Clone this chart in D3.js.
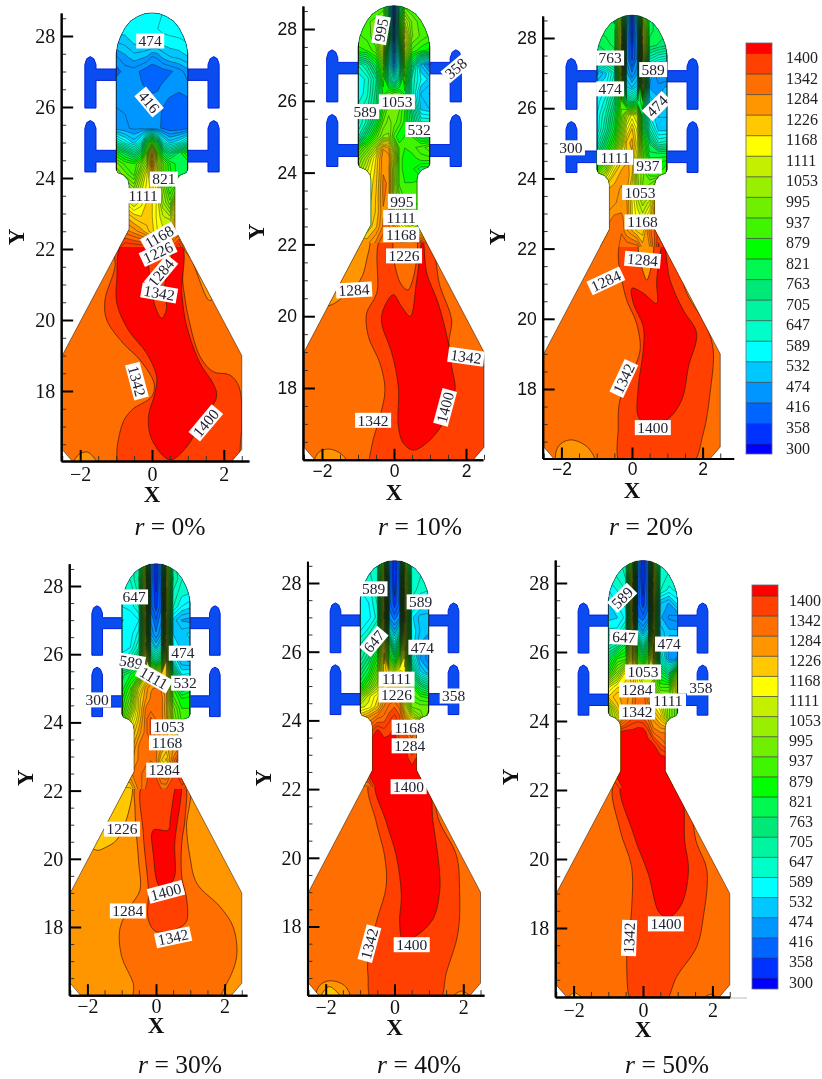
<!DOCTYPE html>
<html>
<head>
<meta charset="UTF-8">
<title>Temperature contours</title>
<script src="https://d3js.org/d3.v7.min.js"></script>
<style>
  html, body { margin: 0; padding: 0; background: #fff; overflow: hidden; }
  svg { display: block; filter: blur(0.4px); }
  text { font-family: "Liberation Serif", serif; fill: #111; }
  .axis text { font-size: 20px; }
  .sans .axis text { font-family: "Liberation Sans", sans-serif; font-size: 17.5px; }
  .axis path, .axis .major line { stroke: #000; stroke-width: 2px; }
  .axis .minor line { stroke: #333; stroke-width: 1px; }
  .title { font-weight: bold; font-size: 23px; }
  .tag { font-size: 15.5px; fill: #223; }
  .legend text { font-size: 16px; fill: #222; }
</style>
</head>
<body>
<script>
// contour levels and the colour of the band above each one
var levels = [300, 358, 416, 474, 532, 589, 647, 705, 763, 821, 879, 937, 995, 1053, 1111, 1168, 1226, 1284, 1342, 1400];
var bandColors = ["#0000ff", "#0032ff", "#0064ff", "#0096ff", "#00c8ff", "#00ffff", "#00ffc8", "#00f5a0", "#00e878", "#00f850", "#00ff00",
  "#40f500", "#70f000", "#98f000", "#c4f000", "#ffff00", "#ffc800", "#ff9600", "#ff6e00", "#ff4000", "#ff0000"];

// axes
var xTicks = [-2, 0, 2];
var yTicks = [18, 20, 22, 24, 26, 28];
var xMinorTicks = [-2.5, -1.5, -1, -0.5, 0.5, 1, 1.5, 2.5];
var yMinorTicks = [16.5, 17, 17.5, 18.5, 19, 19.5, 20.5, 21, 21.5, 22.5, 23, 23.5, 24.5, 25, 25.5, 26.5, 27, 27.5, 28.5];

// geometry, right half, read in X / Y units
var wallRight = [[0, 28.65], [0.2, 28.63], [0.4, 28.55], [0.6, 28.42], [0.75, 28.23], [0.87, 28], [0.95, 27.78], [1, 27.5], [1, 24.25], [0.95, 24.15],
  [0.78, 24.08], [0.67, 23.95], [0.64, 23.8], [0.64, 22.55], [2.5, 19], [2.5, 16.35], [2.2, 16]];
var manifoldUpper = [[0.95, 27.07], [1.56, 27.07], [1.56, 27.2], [1.62, 27.36], [1.72, 27.42], [1.82, 27.36], [1.87, 27.2], [1.87, 25.97], [1.56, 25.97], [1.56, 26.75], [0.95, 26.75]];
var manifoldLower = [[0.95, 24.78], [1.56, 24.78], [1.56, 25.4], [1.62, 25.56], [1.72, 25.62], [1.82, 25.56], [1.87, 25.4], [1.87, 24.17], [1.56, 24.17], [1.56, 24.45], [0.95, 24.45]];

// upper part of the field: value table, columns and rows in X / Y units
var gridColumns = [-1, -0.75, -0.5, -0.3, -0.15, 0, 0.15, 0.3, 0.5, 0.75, 1];
var gridRows = [28.7, 28.2, 27.8, 27.4, 27, 26.6, 26.2, 25.8, 25.4, 25, 24.7, 24.4, 24.1, 23.7, 23.3, 22.9, 22.5, 22];

var gridR0 = [
  [560, 560, 560, 560, 560, 560, 560, 560, 560, 560, 560],
  [545, 550, 560, 560, 560, 560, 560, 570, 570, 570, 570],
  [500, 510, 535, 540, 540, 540, 535, 540, 550, 555, 560],
  [440, 465, 490, 480, 470, 440, 450, 480, 500, 510, 530],
  [400, 430, 430, 410, 395, 390, 395, 400, 410, 430, 460],
  [440, 440, 430, 420, 410, 405, 410, 420, 440, 430, 440],
  [440, 440, 440, 430, 430, 425, 425, 425, 410, 400, 410],
  [450, 445, 440, 440, 435, 430, 430, 410, 395, 395, 410],
  [460, 450, 440, 440, 430, 430, 425, 410, 395, 395, 410],
  [650, 580, 520, 600, 800, 950, 800, 600, 520, 560, 640],
  [850, 780, 700, 780, 950, 1250, 950, 800, 720, 800, 880],
  [950, 900, 880, 960, 1050, 1300, 1080, 950, 850, 800, 800],
  [1000, 950, 900, 1040, 1130, 1250, 1100, 950, 860, 800, 800],
  [1100, 1080, 1000, 1100, 1150, 1180, 1120, 1000, 880, 1000, 1200],
  [1150, 1140, 1080, 1130, 1170, 1170, 1130, 1030, 950, 1250, 1300],
  [1250, 1230, 1190, 1170, 1180, 1170, 1130, 1090, 1060, 1280, 1300],
  [1320, 1300, 1270, 1240, 1210, 1180, 1140, 1120, 1180, 1290, 1300],
  [1350, 1410, 1410, 1410, 1410, 1345, 1345, 1345, 1345, 1410, 1290]
];
var gridR10 = [
  [900, 900, 900, 900, 700, 300, 700, 900, 900, 900, 900],
  [920, 930, 950, 1000, 800, 320, 800, 1050, 960, 920, 900],
  [900, 920, 960, 1110, 850, 340, 800, 1150, 970, 930, 900],
  [870, 880, 930, 1100, 700, 380, 700, 1100, 900, 860, 840],
  [620, 680, 800, 960, 650, 420, 620, 950, 720, 500, 420],
  [560, 600, 700, 900, 720, 600, 720, 900, 640, 560, 520],
  [560, 610, 720, 860, 930, 900, 900, 840, 640, 500, 470],
  [600, 640, 740, 880, 950, 960, 940, 880, 720, 520, 500],
  [580, 660, 800, 940, 980, 950, 920, 870, 760, 620, 620],
  [640, 780, 920, 1000, 1000, 900, 850, 880, 880, 800, 780],
  [850, 950, 1060, 1250, 1220, 1050, 900, 880, 900, 920, 960],
  [950, 1050, 1170, 1280, 1280, 1100, 900, 860, 860, 900, 900],
  [1000, 1100, 1180, 1280, 1270, 1050, 900, 860, 860, 800, 800],
  [1110, 1130, 1190, 1290, 1280, 1040, 900, 880, 880, 900, 900],
  [1130, 1140, 1200, 1290, 1270, 1050, 950, 900, 880, 900, 900],
  [1150, 1160, 1200, 1280, 1260, 1100, 1020, 960, 920, 950, 950],
  [1200, 1170, 1220, 1290, 1290, 1250, 1170, 1120, 1060, 1110, 1150],
  [1250, 1250, 1300, 1345, 1345, 1345, 1300, 1300, 1300, 1410, 1345]
];
var gridR20 = [
  [800, 800, 780, 1000, 600, 300, 600, 1000, 800, 780, 780],
  [790, 800, 800, 1150, 480, 310, 480, 1150, 800, 780, 770],
  [760, 780, 800, 1200, 440, 330, 440, 1200, 780, 760, 740],
  [700, 740, 760, 1200, 440, 350, 430, 1200, 650, 600, 580],
  [460, 520, 620, 1150, 480, 420, 470, 1150, 500, 400, 400],
  [530, 560, 650, 1100, 530, 500, 540, 1100, 470, 460, 480],
  [540, 600, 720, 920, 750, 700, 780, 850, 520, 480, 500],
  [560, 650, 780, 950, 1060, 1120, 1080, 800, 560, 500, 500],
  [560, 680, 820, 1000, 1130, 1200, 1130, 850, 640, 520, 520],
  [620, 760, 900, 1060, 1210, 1240, 1150, 920, 760, 620, 640],
  [700, 850, 1000, 1140, 1200, 1220, 1120, 960, 800, 800, 800],
  [820, 960, 1130, 1210, 1230, 1220, 1060, 950, 860, 860, 880],
  [1000, 1080, 1200, 1240, 1250, 1200, 1030, 980, 900, 880, 900],
  [1180, 1220, 1240, 1260, 1240, 1150, 1050, 960, 1000, 1200, 1200],
  [1190, 1230, 1250, 1270, 1260, 1170, 1100, 1040, 1100, 1320, 1320],
  [1200, 1260, 1290, 1290, 1270, 1170, 1130, 1100, 1180, 1340, 1340],
  [1250, 1290, 1310, 1310, 1260, 1230, 1190, 1180, 1300, 1380, 1380],
  [1290, 1290, 1290, 1330, 1345, 1345, 1345, 1250, 1250, 1410, 1345]
];
var gridR30 = [
  [620, 640, 660, 1000, 450, 300, 450, 1000, 660, 620, 600],
  [600, 620, 680, 1150, 420, 310, 420, 1150, 680, 620, 600],
  [570, 590, 660, 1180, 400, 330, 400, 1180, 640, 600, 590],
  [560, 570, 620, 1180, 400, 340, 410, 1180, 620, 560, 540],
  [530, 540, 560, 1150, 440, 390, 440, 1150, 520, 470, 460],
  [540, 545, 600, 1150, 470, 420, 470, 1150, 530, 520, 540],
  [540, 560, 650, 1180, 600, 500, 600, 1200, 570, 520, 520],
  [590, 640, 760, 1200, 800, 700, 800, 1200, 580, 480, 470],
  [780, 820, 880, 1100, 1200, 1130, 1200, 1200, 780, 560, 570],
  [800, 900, 1120, 1240, 1280, 1290, 1280, 1220, 880, 760, 800],
  [840, 950, 1180, 1250, 1290, 1295, 1300, 1240, 920, 850, 860],
  [860, 1000, 1180, 1290, 1300, 1310, 1300, 1230, 980, 880, 880],
  [900, 1080, 1200, 1300, 1350, 1310, 1300, 1240, 1000, 900, 880],
  [1100, 1150, 1240, 1300, 1350, 1310, 1280, 1240, 1180, 1200, 1200],
  [1150, 1200, 1290, 1300, 1300, 1290, 1260, 1220, 1250, 1300, 1300],
  [1200, 1240, 1290, 1300, 1310, 1290, 1200, 1160, 1290, 1420, 1420],
  [1260, 1280, 1300, 1330, 1350, 1340, 1260, 1250, 1340, 1420, 1420],
  [1180, 1180, 1290, 1345, 1350, 1350, 1350, 1350, 1350, 1345, 1290]
];
var gridR40 = [
  [610, 620, 640, 1000, 450, 300, 450, 1000, 640, 620, 610],
  [600, 610, 640, 1150, 420, 300, 420, 1150, 640, 620, 600],
  [560, 570, 640, 1200, 420, 320, 420, 1200, 640, 600, 590],
  [555, 560, 620, 1220, 400, 340, 400, 1220, 600, 560, 555],
  [540, 550, 600, 1230, 440, 400, 440, 1230, 540, 490, 480],
  [560, 600, 680, 1200, 600, 480, 600, 1220, 560, 500, 480],
  [620, 680, 780, 1220, 800, 620, 800, 1220, 560, 470, 440],
  [660, 740, 880, 1230, 880, 780, 950, 1170, 620, 470, 430],
  [740, 820, 960, 1220, 1160, 1100, 1180, 1120, 720, 540, 480],
  [820, 930, 1060, 1220, 1220, 1220, 1220, 1100, 880, 760, 700],
  [1000, 1100, 1160, 1240, 1290, 1290, 1290, 1100, 920, 880, 860],
  [1100, 1120, 1190, 1290, 1320, 1340, 1300, 1140, 960, 950, 950],
  [1200, 1250, 1300, 1320, 1360, 1380, 1350, 1250, 1100, 1000, 900],
  [1300, 1340, 1410, 1380, 1390, 1410, 1340, 1340, 1280, 1350, 1300],
  [1400, 1410, 1420, 1420, 1420, 1420, 1380, 1400, 1340, 1350, 1350],
  [1410, 1420, 1420, 1420, 1420, 1420, 1420, 1420, 1380, 1420, 1420],
  [1410, 1420, 1420, 1420, 1420, 1420, 1420, 1420, 1420, 1410, 1410],
  [1290, 1290, 1410, 1420, 1420, 1420, 1420, 1420, 1420, 1420, 1345]
];
var gridR50 = [
  [620, 640, 660, 1000, 450, 300, 450, 1000, 650, 640, 630],
  [600, 620, 650, 1180, 420, 300, 420, 1180, 640, 610, 610],
  [560, 590, 620, 1220, 420, 320, 420, 1220, 620, 580, 600],
  [530, 560, 600, 1220, 400, 340, 400, 1220, 500, 470, 540],
  [520, 530, 570, 1180, 420, 400, 440, 1180, 480, 440, 430],
  [570, 570, 650, 1200, 560, 470, 560, 1200, 520, 480, 480],
  [640, 680, 800, 1230, 800, 650, 800, 1230, 560, 460, 460],
  [760, 880, 900, 1230, 920, 800, 950, 1230, 620, 460, 440],
  [860, 1000, 1150, 1240, 1100, 1000, 1080, 1100, 800, 700, 1000],
  [1100, 1160, 1180, 1200, 1150, 1100, 1060, 1000, 900, 900, 1180],
  [1170, 1220, 1240, 1280, 1340, 1340, 1260, 1160, 1000, 980, 1100],
  [1000, 1180, 1250, 1290, 1340, 1330, 1300, 1180, 1120, 1000, 900],
  [1000, 1100, 1280, 1340, 1350, 1340, 1300, 1240, 1180, 1000, 900],
  [1345, 1390, 1410, 1410, 1420, 1420, 1380, 1300, 1280, 1280, 1280],
  [1410, 1420, 1420, 1420, 1420, 1420, 1420, 1410, 1350, 1300, 1300],
  [1410, 1420, 1420, 1420, 1420, 1420, 1420, 1420, 1420, 1410, 1410],
  [1410, 1420, 1420, 1420, 1420, 1420, 1420, 1420, 1420, 1410, 1410],
  [1290, 1345, 1420, 1420, 1420, 1420, 1420, 1420, 1420, 1420, 1345]
];

// lower part of the field: contour outlines, [level, [[x, y], ...]], painted in order over a base level
var zonesR0 = [
  [1226, [[0.9, 22], [1.1, 21.7], [1.6, 20.55], [1.75, 20.7], [1.2, 22]]],
  [1342, [[-1.03, 22.2], [-1.03, 21.5], [-1.31, 20.56], [-1.26, 20], [-0.8, 19.34], [-0.33, 18.87], [0.06, 18.2], [-0.01, 17.84], [-0.57, 17.46], [-0.85, 17], [-0.85, 15.8], [2.27, 15.8], [2.47, 16.6], [2.43, 18.1], [2.17, 18.45], [1.71, 18.54], [1.34, 18.97], [1.01, 20.09], [0.87, 20.94], [0.69, 22.2]]],
  [1400, [[-0.8, 22.2], [-0.98, 21.13], [-0.98, 20.47], [-0.66, 19.72], [-0.15, 19.06], [0.13, 18.4], [0.08, 17.93], [-0.1, 17.28], [0, 16.62], [0.5, 16.06], [0.97, 16.43], [1.34, 17.09], [1.8, 17.84], [1.71, 18.2], [1.34, 18.78], [0.97, 19.81], [0.83, 20.75], [0.78, 22.2]]],
  [1342, [[0, 22.2], [0.03, 20.6], [0.27, 20.05], [0.4, 20.3], [0.35, 20.9], [0.55, 22.2]]],
  [1226, [[-2.2, 15.9], [-2.05, 16.2], [-1.8, 16.28], [-1.6, 16.1], [-1.5, 15.9]]]
];
var zonesR10 = [
  [1226, [[-2, 20.3], [-1.73, 20.32], [-1.4, 20.55], [-0.94, 21], [-0.76, 21.57], [-0.7, 22.2], [-1.3, 22.2]]],
  [1342, [[-0.34, 22.2], [-0.48, 20.64], [-0.76, 20.08], [-0.71, 19.43], [-0.39, 18.69], [-0.25, 17.95], [-0.39, 17.2], [-0.62, 16.37], [-0.62, 15.8], [2.8, 15.8], [2.8, 18.6], [2.48, 18.6], [1.56, 19.1], [1.6, 19.9], [1.28, 20.83], [0.91, 22.2]]],
  [1400, [[-0.02, 20.6], [-0.3, 20.18], [-0.34, 19.8], [-0.06, 18.97], [0.12, 18.04], [0.12, 16.93], [0.26, 16.46], [0.54, 16.27], [1, 16.55], [1.46, 17.2], [1.7, 17.95], [1.6, 18.6], [1.51, 19.25], [1.23, 20.36], [0.91, 21.2], [0.8, 22.2], [0.63, 21], [0.45, 20], [0.21, 20.27]]],
  [1284, [[0.03, 22.2], [0.15, 20.98], [0.39, 20.73], [0.6, 22.2]]],
  [1226, [[-2.2, 15.9], [-2.1, 16.2], [-1.8, 16.3], [-1.45, 16.15], [-1.3, 15.9]]]
];
var zonesR20 = [
  [1226, [[1.1, 21.7], [1.9, 20.1], [2.05, 20.2], [1.3, 21.9]]],
  [1342, [[-0.29, 22.2], [-0.2, 20.7], [0.13, 19.87], [0.23, 19.11], [0, 18.45], [-0.34, 17.69], [-0.39, 16.93], [-0.29, 15.8], [1.64, 15.8], [2.02, 16.74], [2.21, 17.88], [2.3, 19.11], [2.11, 19.78], [1.55, 20.73], [1.08, 22.2]]],
  [1400, [[0, 20.87], [0.04, 20.44], [0.32, 19.78], [0.32, 19.11], [0.18, 18.07], [0.18, 17.21], [0.41, 17.02], [0.98, 17.12], [1.41, 17.69], [1.6, 18.64], [1.83, 19.59], [1.45, 20.25], [1.08, 21.1], [0.89, 22.2], [0.7, 21.1], [0.7, 20.44], [0.32, 20.73]]],
  [1226, [[0.2, 22.2], [0.42, 21.1], [0.58, 22.2]]],
  [1226, [[-2.13, 15.9], [-2.09, 16.36], [-1.76, 16.55], [-1.28, 16.36], [-1.05, 15.9]]]
];
var zonesR30 = [
  [1168, [[-2, 20.5], [-1.73, 20.25], [-1.44, 20.35], [-1.15, 20.55], [-0.81, 21.33], [-0.72, 22.2], [-1, 22.2]]],
  [1284, [[-0.55, 22.2], [-0.61, 21.43], [-0.51, 19.96], [-0.47, 19.08], [-0.76, 18.59], [-1.05, 17.96], [-1, 17.13], [-0.66, 16.34], [-0.61, 15.8], [1.67, 15.8], [2.06, 16.34], [2.35, 17.13], [2.25, 18], [1.87, 18.59], [1.19, 19.28], [0.99, 20.06], [0.89, 20.94], [0.94, 22.2]]],
  [1342, [[-0.37, 22.2], [-0.37, 20.74], [-0.22, 19.08], [-0.22, 18.2], [0.02, 17.86], [0.85, 18.1], [0.9, 18.78], [0.75, 19.47], [0.75, 20.45], [0.85, 21.23], [0.8, 22.2]]],
  [1400, [[-0.08, 20.84], [0.36, 20.84], [0.42, 21.2], [0.62, 22.2], [0.72, 22.2], [0.55, 20.5], [0.5, 19.37], [0.12, 19.18], [-0.08, 20.16]]]
];
var zonesR40 = [
  [1342, [[-0.72, 22.2], [-0.53, 21.04], [-0.29, 20.07], [-0.24, 19.19], [-0.53, 18.12], [-0.77, 17.05], [-0.77, 16.57], [-0.63, 15.8], [1.26, 15.8], [1.51, 16.67], [1.85, 17.83], [1.89, 19.1], [1.8, 20.07], [1.31, 21.04], [0.92, 22.2]]],
  [1400, [[-0.53, 22.2], [-0.24, 21.04], [0.05, 20.07], [0.2, 18.9], [0.15, 18.12], [0.25, 17.6], [0.63, 17.73], [1.12, 18.22], [1.31, 19], [1.31, 19.58], [1.12, 21.04], [0.92, 22.2]]],
  [1226, [[-2.27, 15.9], [-2.18, 16.28], [-1.89, 16.42], [-1.45, 16.28], [-1.3, 15.9]]],
  [1168, [[-2.15, 15.9], [-1.9, 16.25], [-1.55, 15.9]]],
  [1226, [[1.65, 15.9], [1.95, 16.12], [2.25, 15.9]]]
];
var zonesR50 = [
  [1342, [[-0.81, 22.2], [-0.66, 20.84], [-0.33, 19.78], [-0.33, 18.52], [-0.47, 16.88], [-0.28, 15.8], [0.59, 15.8], [0.97, 16.59], [1.55, 17.46], [1.74, 18.33], [1.84, 19.68], [1.55, 20.45], [1.07, 22.2]]],
  [1400, [[-0.61, 22.2], [-0.28, 20.74], [0.15, 19.58], [0.49, 18.42], [0.78, 18.33], [1.12, 18.71], [1.31, 19.68], [1.21, 20.45], [0.97, 22.2]]],
  [1168, [[-2.2, 15.9], [-1.98, 16.12], [-1.7, 15.9]]],
  [1226, [[1.7, 15.9], [1.95, 16.08], [2.2, 15.9]]]
];

// contour labels: [text, x, y, angle]
var labelsR0 = [["474", -0.05, 27.86, 0], ["416", -0.08, 26.14, 50], ["821", 0.33, 23.97, 0], ["1111", -0.25, 23.5, 0], ["1168", 0.2, 22.34, -30],
  ["1226", 0.17, 21.9, -25], ["1284", 0.25, 21.33, -50], ["1342", 0.2, 20.76, 10], ["1342", -0.42, 18.28, 75], ["1400", 1.5, 17.1, -50]];
var labelsR10 = [["995", -0.36, 27.97, -80], ["358", 1.72, 26.9, -40], ["1053", 0.08, 25.97, 0], ["589", -0.8, 25.7, 0], ["532", 0.7, 25.2, 0], ["995", 0.22, 23.2, 0],
  ["1111", 0.2, 22.75, 0], ["1168", 0.2, 22.27, 0], ["1226", 0.28, 21.68, 0], ["1284", -1.11, 20.73, -3], ["1342", 2, 18.87, 8], ["1342", -0.58, 17.1, 0], ["1400", 1.42, 17.46, -75]];
var labelsR20 = [["763", -0.62, 27.43, 0], ["589", 0.6, 27.1, 0], ["474", -0.62, 26.55, 0], ["474", 0.71, 26.06, -45], ["300", -1.73, 24.87, 0], ["1111", -0.48, 24.6, 0], ["937", 0.45, 24.35, 0],
  ["1053", 0.23, 23.6, 0], ["1168", 0.3, 22.76, 0], ["1284", 0.3, 21.68, 5], ["1284", -0.74, 21.08, -25], ["1342", -0.23, 18.3, -65], ["1400", 0.59, 16.9, 0]];
var labelsR30 = [["647", -0.64, 27.68, 0], ["474", 0.78, 26.03, 0], ["589", -0.73, 25.77, 10], ["1111", -0.06, 25.3, 30], ["532", 0.85, 25.15, 0], ["300", -1.72, 24.66, 0], ["1053", 0.38, 23.87, 0],
  ["1168", 0.32, 23.4, 0], ["1284", 0.24, 22.6, 0], ["1226", -0.99, 20.87, 0], ["1400", 0.29, 19.03, -15], ["1284", -0.82, 18.47, 0], ["1342", 0.5, 17.7, -12]];
var labelsR40 = [["589", -0.61, 27.83, 0], ["589", 0.76, 27.45, 0], ["647", -0.6, 26.3, -50], ["474", 0.81, 26.13, 0], ["1111", 0.06, 25.2, 0], ["1226", 0.06, 24.74, 0], ["358", 1.72, 24.71, 0],
  ["1168", 0.44, 23.8, 0], ["1284", 0.44, 23.26, 0], ["1400", 0.41, 22.07, 0], ["1342", -0.73, 17.5, -75], ["1400", 0.5, 17.47, 0]];
var labelsR50 = [["589", -0.6, 27.57, -45], ["647", -0.55, 26.43, 3], ["474", 0.75, 26.23, 0], ["1053", 0, 25.42, 0], ["1284", -0.17, 24.9, 0], ["358", 1.67, 24.96, 0],
  ["1111", 0.72, 24.58, 0], ["1342", -0.17, 24.26, 0], ["1342", -0.4, 17.71, -88], ["1400", 0.66, 18.12, 0]];

var captions = ["0%", "10%", "20%", "30%", "40%", "50%"];

// panel placement on the page
var panels = [
  {grid: gridR0, zones: zonesR0, base: 1284, labels: labelsR0, x0: 152, xu: 35.9, y28: 36, yu: 35.5, xMax: 2.7, yMin: 16.03, yMax: 28.65, tickY: 475, titleX: 494, yTitle: [16, 237], capX: 170, capY: 535},
  {grid: gridR10, zones: zonesR10, base: 1284, labels: labelsR10, x0: 394, xu: 36, y28: 29, yu: 35.9, xMax: 2.47, yMin: 16, yMax: 28.64, tickY: 473, titleX: 492, yTitle: [256, 232], capX: 420, capY: 535, sans: true},
  {grid: gridR20, zones: zonesR20, base: 1284, labels: labelsR20, x0: 632, xu: 35.3, y28: 38, yu: 35.1, xMax: 2.88, yMin: 16.02, yMax: 28.63, tickY: 471, titleX: 490, yTitle: [497, 237], capX: 651, capY: 535, sans: true},
  {grid: gridR30, zones: zonesR30, base: 1226, labels: labelsR30, x0: 156, xu: 34.3, y28: 586, yu: 34.1, xMax: 2.65, yMin: 16, yMax: 28.65, tickY: 1007, titleX: 1025, yTitle: [25, 778], capX: 180, capY: 1073},
  {grid: gridR40, zones: zonesR40, base: 1284, labels: labelsR40, x0: 394.5, xu: 34.4, y28: 583, yu: 34.35, xMax: 2.6, yMin: 16, yMax: 28.63, tickY: 1008, titleX: 1027, yTitle: [263, 778], capX: 419, capY: 1073},
  {grid: gridR50, zones: zonesR50, base: 1284, labels: labelsR50, x0: 643, xu: 34.7, y28: 583, yu: 34.5, xMax: 2.5, yMin: 16, yMax: 28.67, tickY: 1011, titleX: 1029, yTitle: [510, 777], capX: 667, capY: 1073}
];
var legends = [
  {x: 746, width: 26, top: 43, first: 53.5, last: 444, bottom: 454, labelX: 786},
  {x: 752, width: 26, top: 585, first: 596, last: 978, bottom: 989, labelX: 789}
];

var color = d3.scaleThreshold().domain(levels).range(bandColors);

var svg = d3.select("body").append("svg")
  .attr("width", 822)
  .attr("height", 1079);

panels.forEach(function (p, i) { drawPanel(p, i); });
legends.forEach(drawLegend);

svg.append("line").attr("x1", 731).attr("x2", 747).attr("y1", 998).attr("y2", 998)
  .attr("stroke", "#bbb").attr("stroke-width", 1);

function drawPanel(p, idx) {
  var g = svg.append("g").attr("class", p.sans ? "sans" : null);

  var x = d3.scaleLinear().domain([-2.53, p.xMax])
    .range([p.x0 - 2.53 * p.xu, p.x0 + p.xMax * p.xu]);
  var y = d3.scaleLinear().domain([p.yMin, p.yMax])
    .range([p.y28 + (28 - p.yMin) * p.yu, p.y28 + (28 - p.yMax) * p.yu]);

  var polyLine = d3.line().x(function (d) { return x(d[0]); }).y(function (d) { return y(d[1]); });
  var smoothLine = d3.line().x(function (d) { return x(d[0]); }).y(function (d) { return y(d[1]); })
    .curve(d3.curveCatmullRomClosed.alpha(0.5));

  // manifolds on both sides, mirrored
  [manifoldUpper, manifoldLower].forEach(function (m) {
    [1, -1].forEach(function (side) {
      var pts = m.map(function (d) { return [d[0] * side, d[1]]; });
      g.append("path")
        .attr("d", polyLine(pts) + "Z")
        .attr("fill", "#0a4cf0")
        .attr("stroke", "#0020e0")
        .attr("stroke-width", 1)
        .attr("stroke-linejoin", "round");
    });
  });

  // whole domain outline
  var rightSide = wallRight;
  var leftSide = wallRight.slice().reverse().map(function (d) { return [-d[0], d[1]]; });
  var outline = polyLine(rightSide.concat(leftSide)) + "Z";

  var clipId = "domain" + idx;
  g.append("clipPath").attr("id", clipId).append("path").attr("d", outline);
  // table contours stop on a whole pixel just above their last row, so the stacked fills leave no fringe at the join
  var joinY = Math.round(y(22.05));
  var topY = Math.round(y(28.8));
  var fillClipId = "fills" + idx;
  g.append("clipPath").attr("id", fillClipId).append("rect")
    .attr("x", Math.round(x(-1.1))).attr("width", Math.round(x(1.1) - x(-1.1)))
    .attr("y", topY).attr("height", joinY - topY);
  var lineClipId = "lines" + idx;
  g.append("clipPath").attr("id", lineClipId).append("rect")
    .attr("x", x(-0.99)).attr("width", x(0.99) - x(-0.99))
    .attr("y", topY).attr("height", joinY - topY);

  var field = g.append("g").attr("clip-path", "url(#" + clipId + ")");

  // lower part: base plus outlined zones
  field.append("rect")
    .attr("x", x(-2.6)).attr("width", x(2.6) - x(-2.6))
    .attr("y", y(22.2)).attr("height", y(15.9) - y(22.2))
    .attr("fill", color(p.base));

  field.selectAll(".zone").data(p.zones).join("path")
    .attr("class", "zone")
    .attr("d", function (d) { return smoothLine(d[1]); })
    .attr("fill", function (d) { return color(d[0]); })
    .attr("stroke", "#4a1a00")
    .attr("stroke-opacity", 0.8)
    .attr("stroke-width", 0.9);

  // upper part: contours of the value table
  var rows = gridRows.length, cols = gridColumns.length;
  var gx = d3.scaleLinear().domain(d3.range(cols).map(function (i) { return i + 0.5; })).range(gridColumns).clamp(true);
  var gy = d3.scaleLinear().domain(d3.range(rows).map(function (i) { return i + 0.5; })).range(gridRows).clamp(true);
  var path = d3.geoPath(d3.geoTransform({
    point: function (a, b) { this.stream.point(x(gx(a)), y(gy(b))); }
  }));
  var values = d3.merge(p.grid);
  var bands = d3.contours().size([cols, rows]).thresholds([0].concat(levels))(values);

  field.append("g").attr("clip-path", "url(#" + fillClipId + ")")
    .selectAll("path").data(bands).join("path")
    .attr("d", path)
    .attr("fill", function (d) { return color(d.value); });

  // lines at the levels and halfway between them, the mesh in the source is dense
  var halfLevels = d3.pairs(levels).map(function (d) { return (d[0] + d[1]) / 2; });
  var lineSet = d3.contours().size([cols, rows]).thresholds(levels.concat(halfLevels).sort(d3.ascending))(values);

  field.append("g").attr("clip-path", "url(#" + lineClipId + ")")
    .selectAll("path").data(lineSet).join("path")
    .attr("d", path)
    .attr("fill", "none")
    .attr("stroke", "#102010")
    .attr("stroke-opacity", 0.6)
    .attr("stroke-width", 0.7);

  g.append("path")
    .attr("d", outline)
    .attr("fill", "none")
    .attr("stroke", "#201008")
    .attr("stroke-opacity", 0.65)
    .attr("stroke-width", 0.8);

  // labels on the contours
  var tags = g.selectAll(".tagbox").data(p.labels).join("g")
    .attr("class", "tagbox")
    .attr("transform", function (d) { return "translate(" + x(d[1]) + "," + y(d[2]) + ") rotate(" + d[3] + ")"; });
  tags.append("rect")
    .attr("x", function (d) { return -d[0].length * 4 - 2; })
    .attr("width", function (d) { return d[0].length * 8 + 4; })
    .attr("y", -7.5)
    .attr("height", 15)
    .attr("fill", "#fff");
  tags.append("text")
    .attr("class", "tag")
    .attr("text-anchor", "middle")
    .attr("dy", "0.34em")
    .text(function (d) { return d[0]; });

  // axes, ticks point inward
  var xAxisG = g.append("g").attr("class", "axis").attr("transform", "translate(0," + y(p.yMin) + ")");
  xAxisG.append("g").attr("class", "minor")
    .call(d3.axisBottom(x).tickValues(xMinorTicks).tickSizeInner(-5).tickSizeOuter(0).tickFormat(""));
  xAxisG.append("g").attr("class", "major")
    .call(d3.axisBottom(x).tickValues(xTicks).tickSizeInner(-11).tickSizeOuter(0)
      .tickPadding(p.tickY - y(p.yMin) - 8)
      .tickFormat(function (d) { return d < 0 ? "\u2212" + (-d) : d; }));

  var yAxisG = g.append("g").attr("class", "axis").attr("transform", "translate(" + x(-2.53) + ",0)");
  yAxisG.append("g").attr("class", "minor")
    .call(d3.axisLeft(y).tickValues(yMinorTicks).tickSizeInner(-5).tickSizeOuter(0).tickFormat(""));
  yAxisG.append("g").attr("class", "major")
    .call(d3.axisLeft(y).tickValues(yTicks).tickSizeInner(-12).tickSizeOuter(0).tickPadding(6)
      .tickFormat(d3.format("d")));

  g.selectAll(".axis text").attr("font-family", null);

  g.append("text").attr("class", "title")
    .attr("x", p.x0).attr("y", p.titleX)
    .attr("text-anchor", "middle").attr("dy", "0.35em").text("X");
  g.append("text").attr("class", "title")
    .attr("transform", "translate(" + p.yTitle[0] + "," + p.yTitle[1] + ") rotate(-90)")
    .attr("text-anchor", "middle").attr("dy", "0.35em").text("Y");

  var cap = g.append("text")
    .attr("x", p.capX).attr("y", p.capY)
    .attr("text-anchor", "middle")
    .style("font-size", "25.5px");
  cap.append("tspan").style("font-style", "italic").text("r");
  cap.append("tspan").text(" = " + captions[idx]);
}

function drawLegend(l) {
  var g = svg.append("g").attr("class", "legend");
  var top = levels.slice().reverse();
  var pos = d3.scalePoint().domain(top).range([l.first, l.last]);
  var bandStep = pos.step();

  // band above 1400, then one band under each level line
  g.append("rect").attr("x", l.x).attr("width", l.width)
    .attr("y", l.top).attr("height", l.first - l.top).attr("fill", color(1400));
  g.selectAll(".swatch").data(top).join("rect")
    .attr("class", "swatch")
    .attr("x", l.x).attr("width", l.width)
    .attr("y", function (d) { return pos(d); })
    .attr("height", function (d) { return d === 300 ? l.bottom - l.last : bandStep; })
    .attr("fill", function (d) { return color(d - 1); });
  g.selectAll(".level").data(top).join("line")
    .attr("class", "level")
    .attr("x1", l.x).attr("x2", l.x + l.width)
    .attr("y1", function (d) { return pos(d); })
    .attr("y2", function (d) { return pos(d); })
    .attr("stroke", "#333").attr("stroke-width", 0.7);
  g.append("rect").attr("x", l.x).attr("width", l.width)
    .attr("y", l.top).attr("height", l.bottom - l.top)
    .attr("fill", "none").attr("stroke", "#667").attr("stroke-width", 0.8);
  g.selectAll(".lab").data(top).join("text")
    .attr("class", "lab")
    .attr("x", l.labelX)
    .attr("y", function (d) { return pos(d) + 4; })
    .attr("dy", "0.35em")
    .text(function (d) { return d; });
}
</script>
</body>
</html>
